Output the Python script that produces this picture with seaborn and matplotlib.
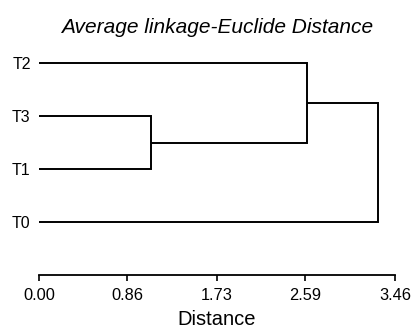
import matplotlib
matplotlib.use("Agg")
import matplotlib.pyplot as plt
import seaborn as sns

# leaves listed bottom to top, as they sit on the y axis
leaves = ["T0", "T1", "T3", "T2"]
# merges: (left member, right member, distance)
merges = [
    ("T3", "T1", 1.09),
    ("T2", "C1", 2.60),
    ("C2", "T0", 3.29),
]
tick_values = [0.00, 0.86, 1.73, 2.59, 3.46]
tick_labels = ["0.00", "0.86", "1.73", "2.59", "3.46"]

sns.set_style("ticks", {"text.color": "black", "axes.labelcolor": "black",
                        "xtick.color": "black", "ytick.color": "black",
                        "axes.edgecolor": "black"})
plt.rcParams["font.family"] = ["Liberation Sans", "DejaVu Sans"]

fig = plt.figure(figsize=(4.11, 3.28), dpi=100)
ax = fig.add_axes([39 / 411, 53 / 328, 356 / 411, 238 / 328])

# node positions: (x = height, y = vertical position)
pos = {name: (0.0, i) for i, name in enumerate(leaves)}
for k, (a, b, h) in enumerate(merges, start=1):
    xa, ya = pos[a]
    xb, yb = pos[b]
    ax.plot([xa, h, h, xb], [ya, ya, yb, yb], color="black", lw=1.4,
            solid_joinstyle="miter", solid_capstyle="butt")
    pos[f"C{k}"] = (h, (ya + yb) / 2)

ax.set_xlim(0, 3.46)
ax.set_ylim(-1, 3.5)
ax.set_xticks(tick_values)
ax.set_xticklabels(tick_labels, fontsize=11.8)
ax.set_yticks(range(len(leaves)))
ax.set_yticklabels(leaves, fontsize=11.5)
ax.tick_params(axis="y", length=0, pad=6)
ax.tick_params(axis="x", length=4.5, width=1.2, pad=4.5, color="black")
sns.despine(ax=ax, left=True, top=True, right=True)
ax.spines["bottom"].set_linewidth(1.3)
ax.set_xlabel("Distance", fontsize=14.5, labelpad=5.5)
ax.set_title("Average linkage-Euclide Distance", fontsize=15,
             style="italic", pad=3)

fig.savefig("out.png", dpi=100, facecolor="white")
